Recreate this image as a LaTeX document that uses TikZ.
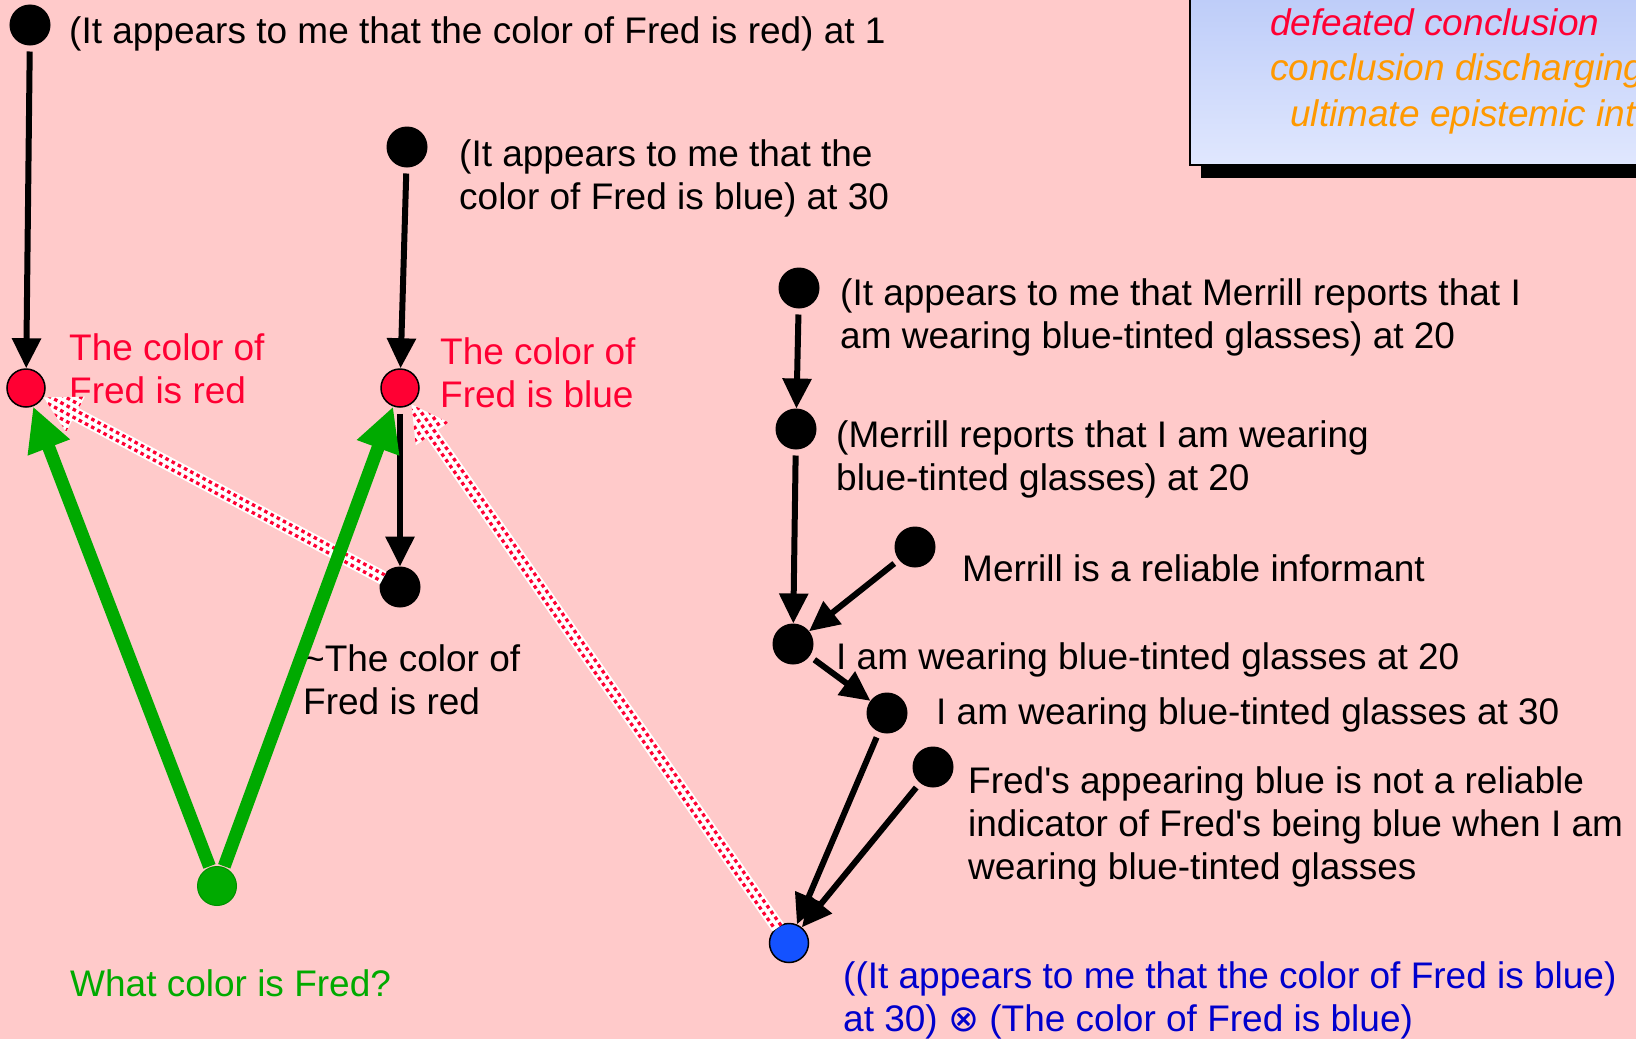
\documentclass[tikz,border=0pt]{standalone}
\usepackage{fontspec}
\setmainfont{Liberation Sans}
\newfontfamily\symfont{DejaVu Sans}
\usetikzlibrary{arrows.meta, calc}

\definecolor{bgpink}{HTML}{FFCACA}
\definecolor{defred}{HTML}{FF0033}
\definecolor{ingreen}{HTML}{00AA00}
\definecolor{conblue}{HTML}{0000CC}
\definecolor{nodeblue}{HTML}{1452FF}
\definecolor{legorange}{HTML}{FF9900}
\definecolor{legtop}{HTML}{BACAF8}
\definecolor{legbot}{HTML}{E0E7FE}

% dotted defeat arrow from #1 to #2
\newcommand{\defeatarrow}[2]{%
  \coordinate (dtail) at ($(#1)!19pt!(#2)$);
  \coordinate (dtip) at ($(#2)!20pt!(#1)$);
  \coordinate (dbase) at ($(dtip)!36pt!(dtail)$);
  \coordinate (dp1) at ($(dtail)!7pt!90:(dtip)$);
  \coordinate (dp2) at ($(dbase)!7pt!90:(dtip)$);
  \coordinate (dp3) at ($(dbase)!20pt!90:(dtip)$);
  \coordinate (dp5) at ($(dbase)!20pt!-90:(dtip)$);
  \coordinate (dp6) at ($(dbase)!7pt!-90:(dtip)$);
  \coordinate (dp7) at ($(dtail)!7pt!-90:(dtip)$);
  \fill[white] (dp1) -- (dp2) -- (dp3) -- (dtip) -- (dp5) -- (dp6) -- (dp7) -- cycle;
  \begin{scope}
    \clip (dp1) -- (dp2) -- (dp3) -- (dtip) -- (dp5) -- (dp6) -- (dp7) -- cycle;
    \foreach \o/\ph in {-17.5/0, -10.5/3.5, -3.5/0, 3.5/3.5, 10.5/0, 17.5/3.5}
      \draw[dotline, dash phase=\ph pt] ($(dtail)!\o pt!90:(dtip)$) -- ($(dtip)!\o pt!-90:(dtail)$);
  \end{scope}
}

\begin{document}
\begin{tikzpicture}[
    x=1pt, y=-1pt,
    dot/.style={circle, fill=black, draw=black, line width=1pt, minimum size=40pt, inner sep=0pt},
    rdot/.style={dot, fill=defred, minimum size=38pt, line width=1.5pt},
    gdot/.style={dot, fill=ingreen, draw=ingreen!85!black, minimum size=39pt},
    bdot/.style={dot, fill=nodeblue, minimum size=39pt, line width=1.5pt},
    txt/.style={anchor=base west, align=left, inner sep=0pt, font=\fontsize{37pt}{43pt}\selectfont},
    arr/.style={-{Triangle[length=30pt, width=28pt]}, line width=6pt, shorten <=6pt},
    garr/.style={-{Triangle[length=44pt, width=42pt]}, line width=13pt, ingreen, shorten <=1pt},
    dotline/.style={defred, line width=3.3pt, dash pattern=on 3.5pt off 3.5pt},
]
\useasboundingbox[fill=bgpink] (0,0) rectangle (1636,1039);

% Legend
\begin{scope}
\clip (0,0) rectangle (1636,1039);
\fill[black] (1201,-20) rectangle (1720,178);
\shade[top color=legtop, bottom color=legbot, draw=black, line width=2pt] (1190,-20) rectangle (1710,165);
\node[txt, defred, font=\fontsize{37pt}{43pt}\selectfont\itshape] (legdef) at (1270,35) {defeated conclusion};
\node[txt, legorange, font=\fontsize{37pt}{43pt}\selectfont\itshape] (legdis) at (1270,80) {conclusion discharging};
\node[txt, legorange, font=\fontsize{37pt}{43pt}\selectfont\itshape] (legult) at (1290,126) {ultimate epistemic interest};
\end{scope}

% LEFT side
\node[dot] (n1) at (30,25) {};
\node[dot] (n2) at (407,147) {};
\node[rdot] (redA) at (26,388) {};
\node[rdot] (redB) at (400,388) {};
\node[dot] (notred) at (400,587) {};
\node[gdot] (query) at (217,886) {};

\node[txt] (tn1) at (69,43) {(It appears to me that the color of Fred is red) at 1};
\node[txt] (tn2) at (459,209) {(It appears to me that the\\color of Fred is blue) at 30};
\node[txt, defred] (tredA) at (69,403) {The color of\\Fred is red};
\node[txt, defred] (tredB) at (440,407) {The color of\\Fred is blue};
\node[txt] (tnot) at (303,714) {\textasciitilde The color of\\Fred is red};
\node[txt, ingreen] (tquery) at (70,996) {What color is Fred?};

% RIGHT side
\node[dot] (m1) at (799,288) {};
\node[dot] (m2) at (796,429) {};
\node[dot] (rel) at (915,547) {};
\node[dot] (w20) at (793,644) {};
\node[dot] (w30) at (887,713) {};
\node[dot] (fred) at (933,767) {};
\node[bdot] (blue) at (789,943) {};

\node[txt] (tm1) at (840,348) {(It appears to me that Merrill reports that I\\am wearing blue-tinted glasses) at 20};
\node[txt] (tm2) at (836,490) {(Merrill reports that I am wearing\\blue-tinted glasses) at 20};
\node[txt] (trel) at (962,581) {Merrill is a reliable informant};
\node[txt] (tw20) at (836,669) {I am wearing blue-tinted glasses at 20};
\node[txt] (tw30) at (936,724) {I am wearing blue-tinted glasses at 30};
\node[txt] (tfred) at (968,879) {Fred\textquotesingle s appearing blue is not a reliable\\indicator of Fred\textquotesingle s being blue when I am\\wearing blue-tinted glasses};
\node[txt, conblue] (tblue) at (843,1031) {((It appears to me that the color of Fred is blue)\\at 30) {\symfont ⊗} (The color of Fred is blue)};

% Defeaters
\defeatarrow{notred}{redA}
\defeatarrow{blue}{redB}

% Inferences
\draw[arr] (n1) -- (redA);
\draw[arr] (n2) -- (redB);
\draw[arr] (redB) -- (notred);
\draw[arr] (m1) -- (m2);
\draw[arr] (m2) -- (w20);
\draw[arr] (rel) -- (w20);
\draw[arr] (w20) -- (w30);
\draw[arr] (w30) -- (blue);
\draw[arr] (fred) -- (blue);

% Query
\draw[garr] (query) -- (redA);
\draw[garr] (query) -- (redB);

\end{tikzpicture}
\end{document}
